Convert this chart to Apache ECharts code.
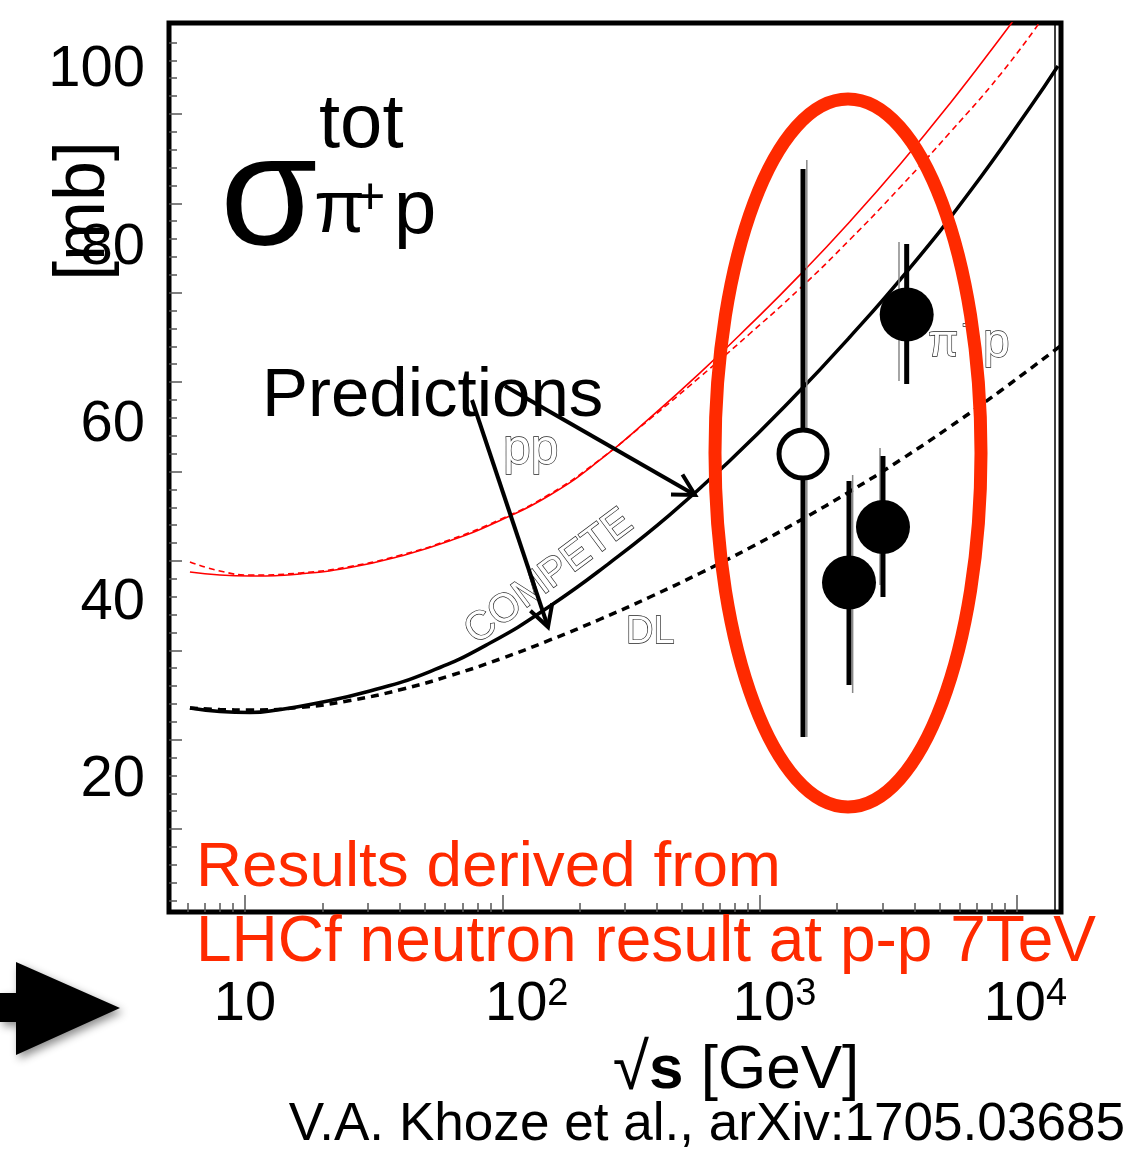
<!DOCTYPE html>
<html><head><meta charset="utf-8">
<script src="https://cdn.jsdelivr.net/npm/echarts@6/dist/echarts.min.js"></script>
<style>html,body{margin:0;padding:0;background:#fff}#c{width:1128px;height:1154px}</style>
</head><body><div id="c"></div><script>
// ---- axis ranges / ticks ----
const xMin = 5.066, xMax = 14841;
const yMin = 0.716, yMax = 100.18;
const yLabMin = 5.127, yLabMax = 105.296;
const xMajorTicks = [10, 100, 1000, 10000];
const xMinorTicks = [6,7,8,9,20,30,40,50,60,70,80,90,200,300,400,500,600,700,800,900,2000,3000,4000,5000,6000,7000,8000,9000];
const yMajorTicks = [10,20,30,40,50,60,70,80,90];
const yMinorTicks = [2,4,6,8,12,14,16,18,22,24,26,28,32,34,36,38,42,44,46,48,52,54,56,58,62,64,66,68,72,74,76,78,82,84,86,88,92,94,96,98];
const yTickLabels = [20, 40, 60, 80, 100];

// ---- curves: sqrt(s) [GeV], sigma [mb] ----
const competePiS   = [6.11, 7.99, 10.46, 13.68, 17.89, 30.60, 52.36, 89.6, 153.3, 262.2, 448.6, 767.4, 1313, 2246, 3842, 6572, 11240, 14440];
const competePiSig = [23.54, 23.15, 23.04, 23.37, 23.93, 25.44, 27.62, 30.81, 34.95, 39.81, 45.18, 51.24, 57.89, 65.07, 72.79, 81.32, 90.72, 95.37];
const dlPiS   = [6.11, 7.99, 10.46, 16.35, 25.6, 40.05, 62.6, 98.0, 153.3, 239.8, 375.0, 586.7, 917.7, 1435, 2246, 3512, 5495, 8597, 14710];
const dlPiSig = [23.54, 23.37, 23.32, 23.60, 24.38, 25.58, 27.15, 29.02, 31.15, 33.47, 35.96, 38.62, 41.47, 44.52, 47.77, 51.26, 55.01, 58.98, 64.02];
const ppSolidS   = [6.11, 7.99, 10.46, 16.35, 25.6, 40.05, 62.6, 98.0, 153.3, 239.8, 375.0, 586.7, 917.7, 1435, 2246, 3512, 5495, 8597, 10280];
const ppSolidSig = [38.76, 38.42, 38.31, 38.54, 39.26, 40.52, 42.25, 44.52, 47.37, 51.29, 56.00, 61.03, 66.40, 72.00, 77.98, 84.35, 91.18, 98.45, 101.47];
const ppDashS   = [6.11, 7.99, 10.46, 16.35, 25.6, 40.05, 62.6, 98.0, 153.3, 239.8, 375.0, 586.7, 917.7, 1435, 2246, 3512, 5495, 8597, 12290];
const ppDashSig = [39.88, 38.87, 38.42, 38.65, 39.37, 40.63, 42.37, 44.63, 47.49, 51.35, 55.88, 60.58, 65.44, 70.48, 75.96, 81.78, 87.93, 94.37, 100.28];

// ---- data points ----
const openS = [1475], openSig = [51.96], openLo = [20.30], openHi = [83.85];
const fullS = [2226, 3017, 3730], fullSig = [37.58, 43.79, 67.56], fullLo = [26.12, 35.96, 59.79], fullHi = [48.95, 51.74, 75.46];
const greyS = [1526, 2300, 2938, 3482], greyLo = [20.30, 25.22, 37.31, 60.13], greyHi = [84.86, 49.61, 52.63, 75.68];

const FONT = '"Liberation Sans", Arial, Helvetica, sans-serif';
const RED = '#ff2a00';
const zip = (a, b) => a.map((v, i) => [v, b[i]]);

function barSeries(s, lo, hi, color, width, z) {
  return {
    type: 'custom', xAxisIndex: 0, yAxisIndex: 0, z: z, silent: true,
    encode: { x: 0, y: [1, 2] },
    data: s.map((v, i) => [v, lo[i], hi[i]]),
    renderItem: function (params, api) {
      const a = api.coord([api.value(0), api.value(1)]);
      const b = api.coord([api.value(0), api.value(2)]);
      return { type: 'line', shape: { x1: a[0], y1: a[1], x2: b[0], y2: b[1] },
               style: { stroke: color, lineWidth: width } };
    }
  };
}

function arrow(x1, y1, x2, y2) {
  const ang = Math.atan2(y2 - y1, x2 - x1), L = 24, h = 0.5;
  const p1 = [x2 - L * Math.cos(ang - h), y2 - L * Math.sin(ang - h)];
  const p2 = [x2 - L * Math.cos(ang + h), y2 - L * Math.sin(ang + h)];
  return [
    { type: 'line', z: 20, shape: { x1, y1, x2, y2 }, style: { stroke: '#000', lineWidth: 4 } },
    { type: 'polyline', z: 20, shape: { points: [p1, [x2, y2], p2] }, style: { stroke: '#000', lineWidth: 4, fill: null } }
  ];
}

function txt(text, x, y, size, opts) {
  opts = opts || {};
  return {
    type: 'text', x: x, y: y, rotation: opts.rot || 0, z: opts.z || 15,
    style: Object.assign({
      text: text, fill: opts.fill || '#000', font: (opts.weight || 'normal') + ' ' + size + 'px ' + FONT,
      align: opts.align || 'left', verticalAlign: 'middle'
    }, opts.stroke ? { stroke: opts.stroke, lineWidth: opts.lw || 1 } : {})
  };
}
const hollow = { fill: '#fff', stroke: '#222', lw: 1.3 };

const tickStyle = { color: '#555', width: 1.5 };
const supPad = { 2: 49, 3: 30, 4: 17 };

const option = {
  animation: false,
  backgroundColor: '#fff',
  grid: { left: 169, top: 23, width: 892, height: 889, show: true, borderColor: '#000', borderWidth: 5,
          backgroundColor: 'transparent', containLabel: false, outerBoundsMode: 'none' },
  xAxis: [
    { type: 'log', logBase: 10, min: xMin, max: xMax, position: 'bottom',
      axisLine: { show: false }, splitLine: { show: false },
      axisTick: { inside: true, length: 17, customValues: xMajorTicks, lineStyle: tickStyle },
      axisLabel: {
        customValues: xMajorTicks, margin: 64,
        formatter: function (v) {
          const e = Math.round(Math.log10(v));
          return e === 1 ? '{b|10}' : '{p' + e + '|}{b|10}{s|' + e + '}';
        },
        rich: {
          b: { fontSize: 56, fontFamily: FONT, color: '#000', lineHeight: 58 },
          s: { fontSize: 38, fontFamily: FONT, color: '#000', lineHeight: 58, verticalAlign: 'top' },
          p2: { width: supPad[2], lineHeight: 58 },
          p3: { width: supPad[3], lineHeight: 58 },
          p4: { width: supPad[4], lineHeight: 58 }
        }
      }
    },
    { type: 'log', logBase: 10, min: xMin, max: xMax, position: 'bottom', offset: 0,
      axisLine: { show: false }, splitLine: { show: false },
      axisTick: { inside: true, length: 9, customValues: xMinorTicks, lineStyle: tickStyle },
      axisLabel: { show: false }
    }
  ],
  yAxis: [
    { type: 'value', min: yMin, max: yMax, position: 'left',
      axisLine: { show: false }, splitLine: { show: false },
      axisTick: { inside: true, length: 13, customValues: yMajorTicks, lineStyle: tickStyle },
      axisLabel: { show: false }
    },
    { type: 'value', min: yMin, max: yMax, position: 'left', offset: 0,
      axisLine: { show: false }, splitLine: { show: false },
      axisTick: { inside: true, length: 8, customValues: yMinorTicks, lineStyle: tickStyle },
      axisLabel: { show: false }
    },
    { type: 'value', min: yLabMin, max: yLabMax, position: 'left', offset: 0,
      axisLine: { show: false }, splitLine: { show: false }, axisTick: { show: false },
      axisLabel: { customValues: yTickLabels, margin: 24, fontSize: 58, fontFamily: FONT, color: '#000' }
    }
  ],
  series: [
    { type: 'line', name: 'pp COMPETE', data: zip(ppSolidS, ppSolidSig), smooth: true, showSymbol: false, symbol: 'none',
      lineStyle: { color: '#ff0000', width: 1.6 }, z: 3 },
    { type: 'line', name: 'pp DL', data: zip(ppDashS, ppDashSig), smooth: true, showSymbol: false, symbol: 'none',
      lineStyle: { color: '#ff0000', width: 1.6, type: [6, 4] }, z: 3 },
    { type: 'line', name: 'pi+p COMPETE', data: zip(competePiS, competePiSig), smooth: true, showSymbol: false, symbol: 'none',
      lineStyle: { color: '#000', width: 3.5 }, z: 4 },
    { type: 'line', name: 'pi+p DL', data: zip(dlPiS, dlPiSig), smooth: true, showSymbol: false, symbol: 'none',
      lineStyle: { color: '#000', width: 3.5, type: [8, 6] }, z: 4 },
    barSeries(greyS, greyLo, greyHi, '#888', 1.5, 5),
    barSeries(openS, openLo, openHi, '#000', 5, 6),
    barSeries(fullS, fullLo, fullHi, '#000', 5, 6),
    { type: 'scatter', name: 'open', data: zip(openS, openSig), symbol: 'circle', symbolSize: 48,
      itemStyle: { color: '#fff', borderColor: '#000', borderWidth: 5, opacity: 1 }, z: 7 },
    { type: 'scatter', name: 'full', data: zip(fullS, fullSig), symbol: 'circle', symbolSize: 54,
      itemStyle: { color: '#000', opacity: 1 }, z: 7 }
  ],
  graphic: [
    { type: 'line', z: 12, shape: { x1: 1055, y1: 23, x2: 1055, y2: 912 }, style: { stroke: '#000', lineWidth: 1.5 } },
    txt('tot', 319, 126, 76),
    txt('σ', 220, 200, 158),
    txt('π', 314, 212, 74),
    txt('+', 355, 200, 52),
    txt('p', 394, 212, 76),
    txt('[mb]', 84, 211, 72, { rot: Math.PI / 2, align: 'center' }),
    txt('Predictions', 262, 397, 69),
    txt('pp', 503, 450, 50, hollow),
    txt('COMPETE', 549, 577, 40, Object.assign({ rot: 0.64, align: 'center' }, hollow)),
    txt('DL', 626, 633, 38, hollow),
    txt('π', 928, 344, 44, hollow),
    txt('+', 962, 326, 28, hollow),
    txt('p', 983, 344, 48, hollow),
    ...arrow(472, 400, 548, 627),
    ...arrow(505, 386, 695, 495),
    { type: 'ellipse', z: 30, shape: { cx: 848, cy: 453, rx: 133, ry: 354 }, style: { stroke: RED, lineWidth: 13, fill: null } },
    txt('Results derived from', 196, 868, 63.8, { fill: RED, z: 31 }),
    txt('LHCf neutron result at p-p 7TeV', 196, 943, 64, { fill: RED, z: 31 }),
    { type: 'text', x: 736, y: 1071, z: 15,
      style: { text: '{r|√}{s|s}{g| [GeV]}', align: 'center', verticalAlign: 'middle',
        rich: { r: { fontSize: 66, fontFamily: FONT, fill: '#000' },
                s: { fontSize: 62, fontFamily: FONT, fontWeight: 'bold', fill: '#000' },
                g: { fontSize: 62, fontFamily: FONT, fill: '#000' } } } },
    txt('V.A. Khoze et al., arXiv:1705.03685', 1125, 1125, 53.1, { align: 'right' }),
    { type: 'polygon', z: 15,
      shape: { points: [[0, 993], [16, 993], [16, 962], [120, 1008], [16, 1055], [16, 1022], [0, 1022]] },
      style: { fill: '#000', shadowBlur: 8, shadowOffsetX: 3, shadowOffsetY: 4, shadowColor: 'rgba(0,0,0,0.45)' } }
  ]
};

const chart = echarts.init(document.getElementById('c'), null, { renderer: 'canvas' });
chart.setOption(option);
</script></body></html>
